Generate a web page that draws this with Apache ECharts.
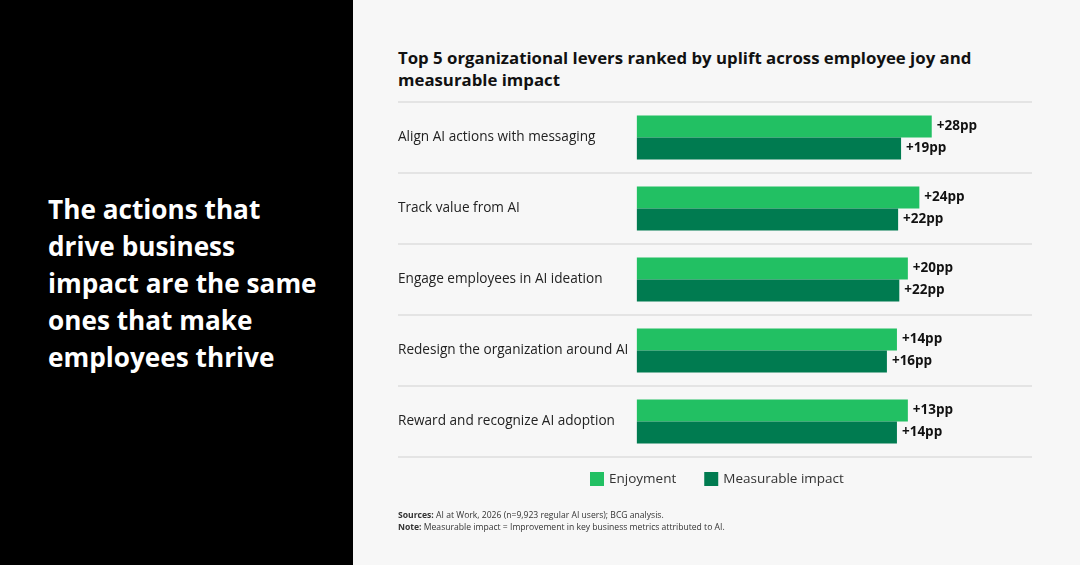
<!DOCTYPE html>
<html>
<head>
<meta charset="utf-8">
<script src="https://cdn.jsdelivr.net/npm/echarts@6/dist/echarts.min.js"></script>
<style>
  html, body { margin: 0; padding: 0; }
  body { width: 1080px; height: 565px; position: relative; overflow: hidden; background: #f7f7f7; font-family: "Open Sans", sans-serif; }
  #side { position: absolute; left: 0; top: 0; width: 353px; height: 565px; background: #000; }
  #side h1 { position: absolute; left: 48px; top: 191px; margin: 0; color: #fff; font-size: 26.2px; line-height: 37px; font-weight: 700; }
  #title { position: absolute; left: 398px; top: 47px; margin: 0; color: #111; font-size: 16.8px; line-height: 22px; font-weight: 700; }
  #notes { position: absolute; left: 398px; top: 509px; color: #333; font-size: 8.6px; line-height: 12px; }
  #chart { position: absolute; left: 353px; top: 0; width: 727px; height: 565px; }
</style>
</head>
<body>
<div id="side"><h1>The actions that<br>drive business<br>impact are the same<br>ones that make<br>employees thrive</h1></div>
<div id="title">Top 5 organizational levers ranked by uplift across employee joy and<br>measurable impact</div>
<div id="chart"></div>
<div id="notes"><b>Sources:</b> AI at Work, 2026 (n=9,923 regular AI users); BCG analysis.<br><b>Note:</b> Measurable impact = Improvement in key business metrics attributed to AI.</div>
<script>
// levers, top to bottom
const categories = [
  'Align AI actions with messaging',
  'Track value from AI',
  'Engage employees in AI ideation',
  'Redesign the organization around AI',
  'Reward and recognize AI adoption'
];
// uplift in percentage points, as labelled
const enjoymentPP = [28, 24, 20, 14, 13];
const impactPP = [19, 22, 22, 16, 14];
// bar lengths as drawn in the source (index, longest bar = 100)
const enjoymentBar = [100, 95.8, 91.9, 88.2, 91.9];
const impactBar = [89.6, 88.6, 89.0, 84.8, 88.2];

const myChart = echarts.init(document.getElementById('chart'));

function ppLabel(values) {
  return {
    show: true,
    position: 'right',
    distance: 5,
    color: '#111',
    fontSize: 13.5,
    fontWeight: 'bold',
    fontFamily: 'Open Sans',
    formatter: p => '+' + values[p.dataIndex] + 'pp'
  };
}

myChart.setOption({
  animation: false,
  textStyle: { fontFamily: 'Open Sans' },
  grid: { left: 45, right: 48, top: 102, height: 355 },
  legend: {
    left: 232,
    top: 467,
    icon: 'rect',
    itemWidth: 14,
    itemHeight: 14,
    itemGap: 28,
    textStyle: { color: '#333', fontSize: 13.5 },
    data: ['Enjoyment', 'Measurable impact']
  },
  xAxis: {
    type: 'value',
    min: -81,
    max: 134,
    show: false
  },
  yAxis: {
    type: 'category',
    inverse: true,
    data: categories,
    axisLine: { show: false },
    axisTick: { show: false },
    axisLabel: { inside: true, margin: 0, color: '#222', fontSize: 13.6 },
    splitLine: { show: true, interval: 0, lineStyle: { color: '#dedede', width: 1.5 } }
  },
  series: [
    {
      name: 'Enjoyment',
      type: 'bar',
      data: enjoymentBar,
      barWidth: 22,
      barGap: '0%',
      itemStyle: { color: '#22c063' },
      label: ppLabel(enjoymentPP)
    },
    {
      name: 'Measurable impact',
      type: 'bar',
      data: impactBar,
      barWidth: 22,
      itemStyle: { color: '#007b50' },
      label: ppLabel(impactPP)
    }
  ]
});
</script>
</body>
</html>
